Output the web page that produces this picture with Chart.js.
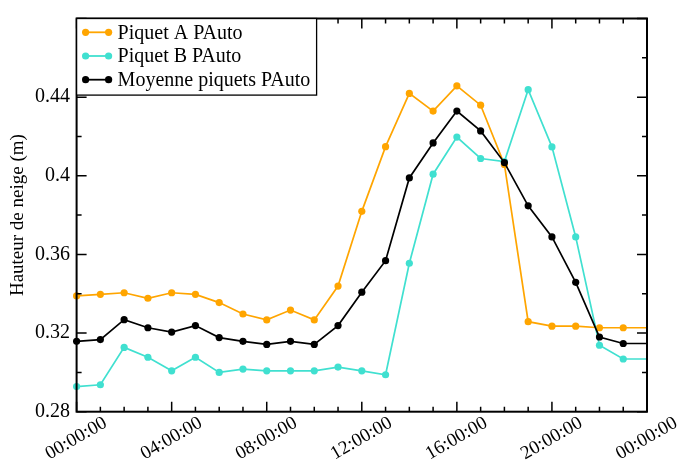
<!DOCTYPE html>
<html lang="fr">
<head>
    <meta charset="UTF-8">
    <title>Hauteur de neige PAuto</title>
    <script src="https://cdn.jsdelivr.net/npm/chart.js"></script>
    <style>
        html, body { margin: 0; padding: 0; background: #fff; }
        #wrap { width: 680px; height: 467px; }
    </style>
</head>
<body>
    <div id="wrap"><canvas id="neigeChart"></canvas></div>
    <script>
// heures (0 = 00:00:00, 24 = 00:00:00 le lendemain)
var heures = [0, 1, 2, 3, 4, 5, 6, 7, 8, 9, 10, 11, 12, 13, 14, 15, 16, 17, 18, 19, 20, 21, 22, 23, 24];

var piquetA = [0.3389, 0.3397, 0.3405, 0.3377, 0.3405, 0.3397, 0.3355, 0.3297, 0.3267, 0.3317, 0.3267, 0.3439, 0.3819,
    0.4148, 0.4419, 0.4329, 0.4457, 0.4359, 0.4058, 0.3258, 0.3235, 0.3235, 0.3227, 0.3227, 0.3227];
var piquetB = [0.2928, 0.2937, 0.3127, 0.3077, 0.3008, 0.3077, 0.3000, 0.3017, 0.3008, 0.3008, 0.3008, 0.3027, 0.3008,
    0.2988, 0.3555, 0.4008, 0.4197, 0.4088, 0.4072, 0.4438, 0.4147, 0.3689, 0.3138, 0.3068, 0.3068];
var moyenne = [0.3158, 0.3167, 0.3268, 0.3227, 0.3205, 0.3238, 0.3177, 0.3158, 0.3142, 0.3158, 0.3142, 0.3238, 0.3408,
    0.3568, 0.3989, 0.4167, 0.4329, 0.4228, 0.4067, 0.3847, 0.3689, 0.3458, 0.3180, 0.3147, 0.3147];

var xLabels = ["00:00:00", "04:00:00", "08:00:00", "12:00:00", "16:00:00", "20:00:00", "00:00:00"];
var yLabels = ["0.28", "0.32", "0.36", "0.4", "0.44", ""];

var police = "'Liberation Serif', 'Times New Roman', serif";

function points(vals) {
    return heures.map(function (h, i) { return { x: h, y: vals[i] }; });
}
// pas de marqueur sur le dernier point (bord droit)
function rayons() {
    return heures.map(function (h, i) { return i === heures.length - 1 ? 0 : 3.6; });
}

function serie(label, vals, couleur, ordre) {
    return {
        label: label,
        data: points(vals),
        borderColor: couleur,
        backgroundColor: couleur,
        pointBackgroundColor: couleur,
        pointBorderWidth: 0,
        pointRadius: rayons(),
        borderWidth: 1.7,
        clip: false,
        order: ordre
    };
}

// cadre, graduations vers l'interieur et legende
var cadre = {
    id: "cadre",
    afterDraw: function (chart) {
        var ctx = chart.ctx, a = chart.chartArea, x = chart.scales.x, y = chart.scales.y;
        ctx.save();
        ctx.strokeStyle = "#000";
        ctx.lineWidth = 1.5;
        ctx.beginPath();
        for (var h = x.min; h <= x.max; h++) {
            var px = x.getPixelForValue(h);
            var l = h % 4 === 0 ? 10 : 5;
            ctx.moveTo(px, a.bottom); ctx.lineTo(px, a.bottom - l);
            ctx.moveTo(px, a.top); ctx.lineTo(px, a.top + l);
        }
        for (var i = 0; i <= 10; i++) {
            var py = y.getPixelForValue(y.min + i * 0.02);
            var l2 = i % 2 === 0 ? 10 : 5;
            ctx.moveTo(a.left, py); ctx.lineTo(a.left + l2, py);
            ctx.moveTo(a.right, py); ctx.lineTo(a.right - l2, py);
        }
        ctx.stroke();
        ctx.lineWidth = 2;
        ctx.strokeRect(a.left, a.top, a.right - a.left, a.bottom - a.top);

        // legende
        var lx = a.left, ly = a.top, lw = 240, lh = 76.6;
        ctx.fillStyle = "#fff";
        ctx.fillRect(lx, ly, lw, lh);
        ctx.lineWidth = 1.3;
        ctx.strokeRect(lx, ly, lw, lh);
        ctx.font = "20px " + police;
        ctx.textBaseline = "middle";
        ctx.textAlign = "left";
        chart.data.datasets.forEach(function (ds, k) {
            var cy = ly + 13.8 + k * 23.7;
            ctx.strokeStyle = ds.borderColor;
            ctx.fillStyle = ds.borderColor;
            ctx.lineWidth = 1.8;
            ctx.beginPath();
            ctx.moveTo(lx + 9, cy); ctx.lineTo(lx + 32, cy);
            ctx.stroke();
            [lx + 9, lx + 32].forEach(function (cx) {
                ctx.beginPath();
                ctx.arc(cx, cy, 3.6, 0, Math.PI * 2);
                ctx.fill();
            });
            ctx.fillStyle = "#000";
            ctx.fillText(ds.label, lx + 41, cy + 1);
        });
        ctx.restore();
    }
};

var ctx = document.getElementById("neigeChart").getContext("2d");
var chart = new Chart(ctx, {
    type: "line",
    data: {
        datasets: [
            serie("Piquet A PAuto", piquetA, "#FFA500", 3),
            serie("Piquet B PAuto", piquetB, "#40E0D0", 2),
            serie("Moyenne piquets PAuto", moyenne, "#000000", 1)
        ]
    },
    options: {
        responsive: true,
        maintainAspectRatio: false,
        animation: false,
        layout: { padding: { left: 0, top: 11.7, right: 33, bottom: 0 } },
        plugins: { legend: { display: false }, tooltip: { enabled: false } },
        scales: {
            x: {
                type: "linear",
                min: 0,
                max: 24,
                grid: { display: false, drawTicks: false },
                border: { display: false },
                afterFit: function (s) { s.height = 55.3; },
                ticks: {
                    stepSize: 4,
                    autoSkip: false,
                    minRotation: 30,
                    maxRotation: 30,
                    padding: 0,
                    labelOffset: 29,
                    color: "#000",
                    font: { family: police, size: 19 },
                    callback: function (v, i) { return xLabels[i]; }
                }
            },
            y: {
                min: 0.28,
                max: 0.48,
                grid: { display: false, drawTicks: false },
                border: { display: false },
                afterFit: function (s) { s.width = 76.6; },
                title: {
                    display: true,
                    text: "Hauteur de neige (m)",
                    color: "#000",
                    font: { family: police, size: 19 },
                    padding: { top: 7, bottom: 0 }
                },
                ticks: {
                    stepSize: 0.04,
                    padding: 6.5,
                    color: "#000",
                    font: { family: police, size: 20 },
                    callback: function (v, i) { return yLabels[i]; }
                }
            }
        }
    },
    plugins: [cadre]
});
    </script>
</body>
</html>
